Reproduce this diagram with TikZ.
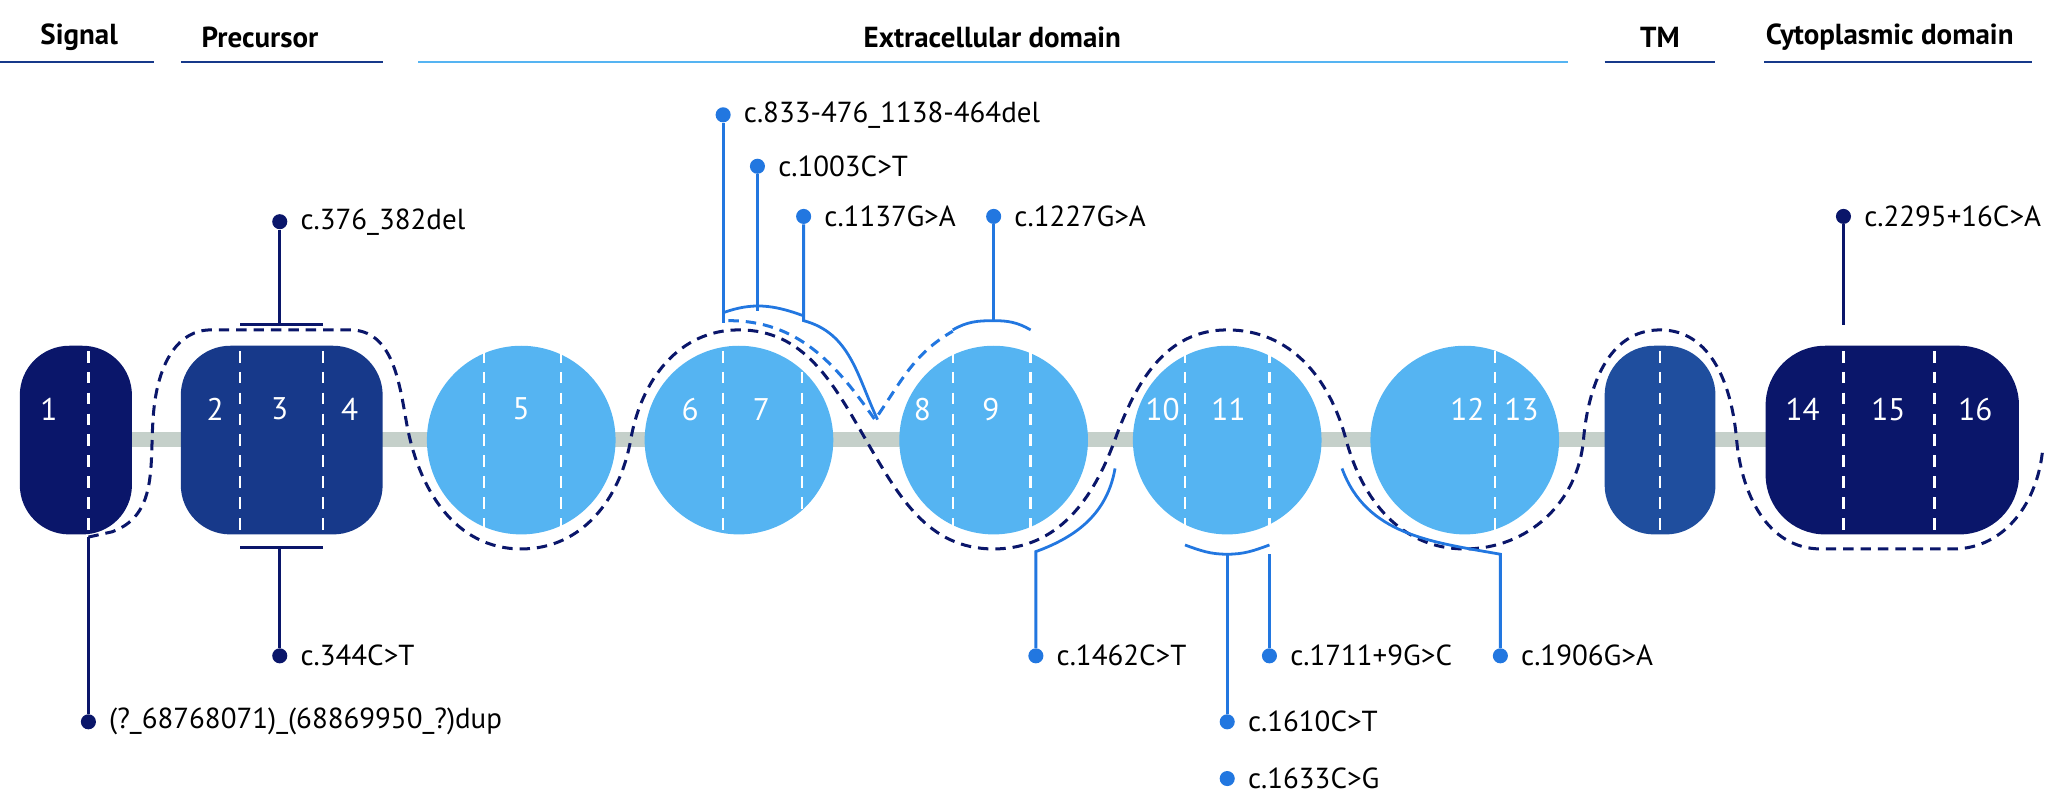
\documentclass[tikz,border=0pt]{standalone}
\usepackage{fontspec}
\setmainfont{PT Sans}
\definecolor{navy}{HTML}{0A166A}
\definecolor{midblue}{HTML}{17398A}
\definecolor{tmblue}{HTML}{1F4E9E}
\definecolor{skyblue}{HTML}{55B4F2}
\definecolor{mutblue}{HTML}{2277E0}
\definecolor{bargrey}{HTML}{C5D0CA}
\usetikzlibrary{positioning}

\begin{document}
\begin{tikzpicture}[x=0.02cm, y=0.02cm, font=\fontsize{12.5}{14}\selectfont,
	exonbox/.style={rectangle, rounded corners=0.75cm, minimum height=2.86cm, inner sep=0pt},
	exoncirc/.style={circle, fill=skyblue, minimum size=2.86cm, inner sep=0pt},
	cut/.style={white, dash pattern=on 5pt off 4pt, line width=1pt},
	num/.style={text=white, font=\fontsize{13.5}{15}\selectfont},
	head/.style={font=\fontsize{12.5}{14}\selectfont\bfseries},
	pin/.style={circle, fill=#1, minimum size=6.5pt, inner sep=0pt},
	stick/.style={line width=1.2pt},
	wave/.style={dash pattern=on 4.5pt off 3pt, line width=1.3pt}]
	\useasboundingbox (0,0) rectangle (1552,-611);
	% domain headers
	\node[head] (hsig) at (60,-28) {Signal};
	\node[head] (hpre) at (197,-28) {Precursor};
	\node[head] (hext) at (752,-28) {Extracellular domain};
	\node[head] (htm) at (1258,-28) {TM};
	\node[head] (hcyt) at (1432,-28) {Cytoplasmic domain};
	\draw[midblue, stick] (0,-47) -- (117,-47);
	\draw[midblue, stick] (137,-47) -- (290,-47);
	\draw[skyblue, stick] (317,-47) -- (1188,-47);
	\draw[midblue, stick] (1216,-47) -- (1300,-47);
	\draw[midblue, stick] (1337,-47) -- (1540,-47);
	% backbone
	\fill[bargrey] (100,-327) rectangle (1340,-339);
	% exons
	\node[exonbox, fill=navy, minimum width=1.7cm] (e1) at (57.5,-333.5) {};
	\node[exonbox, fill=midblue, minimum width=3.06cm] (e24) at (213.5,-333.5) {};
	\node[exoncirc] (e5) at (395,-333.5) {};
	\node[exoncirc] (e67) at (560,-333.5) {};
	\node[exoncirc] (e89) at (753,-333.5) {};
	\node[exoncirc] (e1011) at (930,-333.5) {};
	\node[exoncirc] (e1213) at (1110,-333.5) {};
	\node[exonbox, fill=tmblue, minimum width=1.68cm] (etm) at (1258,-333.5) {};
	\node[exonbox, fill=navy, minimum width=3.84cm, rounded corners=0.9cm] (ecyt) at (1434,-333.5) {};
	\foreach \x in {67,182,245,367,425,548,608,722,781,898,962,1133,1258,1397,1466}
		\draw[cut] (\x,-266) -- (\x,-403);
	\foreach \x/\n in {37/1,163/2,212/3,265/4,395/5,523/6,577/7,699/8,751/9,881/10,931/11,1112/12,1153/13,1366/14,1431/15,1497/16}
		\node[num] at (\x,-310) {\n};
	% wave
	\draw[navy, wave] (67,-407) -- (85,-403)
		to[out=20,in=-100] (118,-300) to[out=80,in=180] (160,-250) -- (265,-250)
		to[out=0,in=100] (308,-320) to[out=-80,in=180] (395,-416)
		to[out=0,in=-100] (478,-333) to[out=80,in=180] (560,-250)
		to[out=0,in=120] (656,-333) to[out=-60,in=180] (753,-416)
		to[out=0,in=-110] (845,-333) to[out=70,in=180] (930,-250)
		to[out=0,in=105] (1020,-333) to[out=-75,in=180] (1110,-416)
		to[out=0,in=-95] (1200,-333) to[out=85,in=180] (1258,-250)
		to[out=0,in=95] (1316,-333) to[out=-85,in=180] (1380,-416) -- (1480,-416)
		to[out=0,in=-95] (1548,-340);
	\draw[mutblue, wave] (552,-243) to[out=0,in=125] (663,-318)
		to[out=55,in=210] (722,-251);
	% mutations, navy
	\node[pin=navy] (m376) at (212,-168) {};
	\node[right=2pt of m376] {c.376\_382del};
	\draw[navy, stick] (m376) -- (212,-246);
	\draw[navy, stick] (182,-246) -- (245,-246);
	\node[pin=navy] (m344) at (212,-497) {};
	\node[right=2pt of m344] {c.344C>T};
	\draw[navy, stick] (m344) -- (212,-415);
	\draw[navy, stick] (182,-415) -- (245,-415);
	\node[pin=navy] (mdup) at (67,-547) {};
	\node[right=2pt of mdup] {(?\_68768071)\_(68869950\_?)dup};
	\draw[navy, stick] (mdup) -- (67,-407);
	\node[pin=navy] (m2295) at (1397,-164) {};
	\node[right=2pt of m2295] {c.2295+16C>A};
	\draw[navy, stick] (m2295) -- (1397,-246);
	% mutations, light
	\node[pin=mutblue] (m833) at (548,-87) {};
	\node[right=2pt of m833] {c.833-476\_1138-464del};
	\draw[mutblue, stick] (m833) -- (548,-245);
	\node[pin=mutblue] (m1003) at (574,-126) {};
	\node[right=2pt of m1003] {c.1003C>T};
	\draw[mutblue, stick] (m1003) -- (574,-236);
	\draw[mutblue, stick] (548,-237) to[out=20,in=160] (608,-239);
	\node[pin=mutblue] (m1137) at (609,-164) {};
	\node[right=2pt of m1137] {c.1137G>A};
	\draw[mutblue, stick] (m1137) -- (609,-243) to[out=-15,in=115] (665,-318);
	\node[pin=mutblue] (m1227) at (753,-164) {};
	\node[right=2pt of m1227] {c.1227G>A};
	\draw[mutblue, stick] (m1227) -- (753,-243);
	\draw[mutblue, stick] (722,-250) to[out=30,in=180] (753,-243) to[out=0,in=150] (781,-250);
	\node[pin=mutblue] (m1462) at (785,-497) {};
	\node[right=2pt of m1462] {c.1462C>T};
	\draw[mutblue, stick] (m1462) -- (785,-418) to[out=20,in=-100] (845,-355);
	\node[pin=mutblue] (m1610) at (930,-547) {};
	\node[right=2pt of m1610] {c.1610C>T};
	\draw[mutblue, stick] (m1610) -- (930,-420);
	\draw[mutblue, stick] (898,-413) to[out=-20,in=180] (930,-420) to[out=0,in=200] (962,-413);
	\node[pin=mutblue] (m1633) at (930,-590) {};
	\node[right=2pt of m1633] {c.1633C>G};
	\node[pin=mutblue] (m1711) at (962,-497) {};
	\node[right=2pt of m1711] {c.1711+9G>C};
	\draw[mutblue, stick] (m1711) -- (962,-420);
	\node[pin=mutblue] (m1906) at (1137,-497) {};
	\node[right=2pt of m1906] {c.1906G>A};
	\draw[mutblue, stick] (m1906) -- (1137,-420) to[out=170,in=-70] (1017,-355);
\end{tikzpicture}
\end{document}
